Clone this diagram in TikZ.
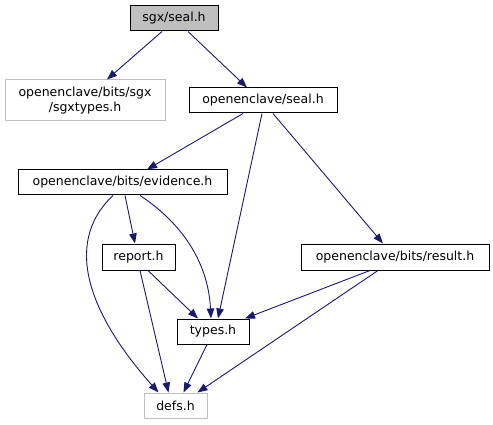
\documentclass[tikz,border=0pt]{standalone}
\usepackage{fontspec}
\setmainfont{DejaVu Sans}
\usetikzlibrary{arrows.meta}
\definecolor{edgeblue}{HTML}{191970}
\definecolor{boxgray}{HTML}{BFBFBF}
\definecolor{boxline}{HTML}{404040}
\begin{document}
\begin{tikzpicture}[x=1pt,y=-1pt,
  filebox/.style={draw=black, line width=1pt, fill=white, inner sep=0pt, align=center,
    font=\fontsize{12.5}{14.5}\selectfont},
  rootbox/.style={filebox, fill=boxgray},
  extbox/.style={filebox, draw=boxgray},
  dep/.style={draw=edgeblue, line width=0.9pt, -{Triangle[length=10pt,width=7.5pt]}, edgeblue}]
\useasboundingbox (0,0) rectangle (493,425);
\node[rootbox, minimum width=88pt, minimum height=25pt] (sgxseal) at (174,18.5) {sgx/seal.h};
\node[extbox, minimum width=160pt, minimum height=41pt] (sgxtypes) at (85,100.5) {openenclave/bits/sgx\\/sgxtypes.h};
\node[filebox, minimum width=148pt, minimum height=25pt] (oeseal) at (263,100.5) {openenclave/seal.h};
\node[filebox, minimum width=209pt, minimum height=25pt] (evidence) at (122.5,182.5) {openenclave/bits/evidence.h};
\node[filebox, minimum width=73pt, minimum height=26pt] (report) at (138.5,257) {report.h};
\node[filebox, minimum width=188pt, minimum height=26pt] (result) at (395,257) {openenclave/bits/result.h};
\node[filebox, minimum width=72pt, minimum height=25pt] (types) at (213,331.5) {types.h};
\node[extbox, minimum width=63pt, minimum height=25pt] (defs) at (175.5,405.5) {defs.h};

\draw[dep] ([xshift=-12pt]sgxseal.south) -- ([xshift=22pt]sgxtypes.north);
\draw[dep] ([xshift=14pt]sgxseal.south) -- ([xshift=-16pt]oeseal.north);
\draw[dep] ([xshift=-20pt]oeseal.south) -- ([xshift=24.5pt]evidence.north);
\draw[dep] ([xshift=-1pt]oeseal.south) -- ([xshift=5pt]types.north);
\draw[dep] ([xshift=10pt]oeseal.south) -- ([xshift=-12pt]result.north);
\draw[dep] ([xshift=2.5pt]evidence.south) -- ([xshift=-3.5pt]report.north);
\draw[dep] ([xshift=17.5pt]evidence.south) .. controls +(38,25) and +(-3,-60) .. ([xshift=-2pt]types.north);
\draw[dep] ([xshift=-9.5pt]evidence.south) .. controls +(-53,50) and +(-65,-73) .. ([xshift=-17pt]defs.north);
\draw[dep] ([xshift=9.5pt]report.south) -- ([xshift=-15pt]types.north);
\draw[dep] ([xshift=1.5pt]report.south) -- ([xshift=-7pt]defs.north);
\draw[dep] ([xshift=-6pt]types.south) -- ([xshift=8pt]defs.north);
\draw[dep] ([xshift=-25pt]result.south) -- ([xshift=32pt]types.north);
\draw[dep] ([xshift=-17pt]result.south) -- ([xshift=22pt]defs.north);
\end{tikzpicture}
\end{document}
